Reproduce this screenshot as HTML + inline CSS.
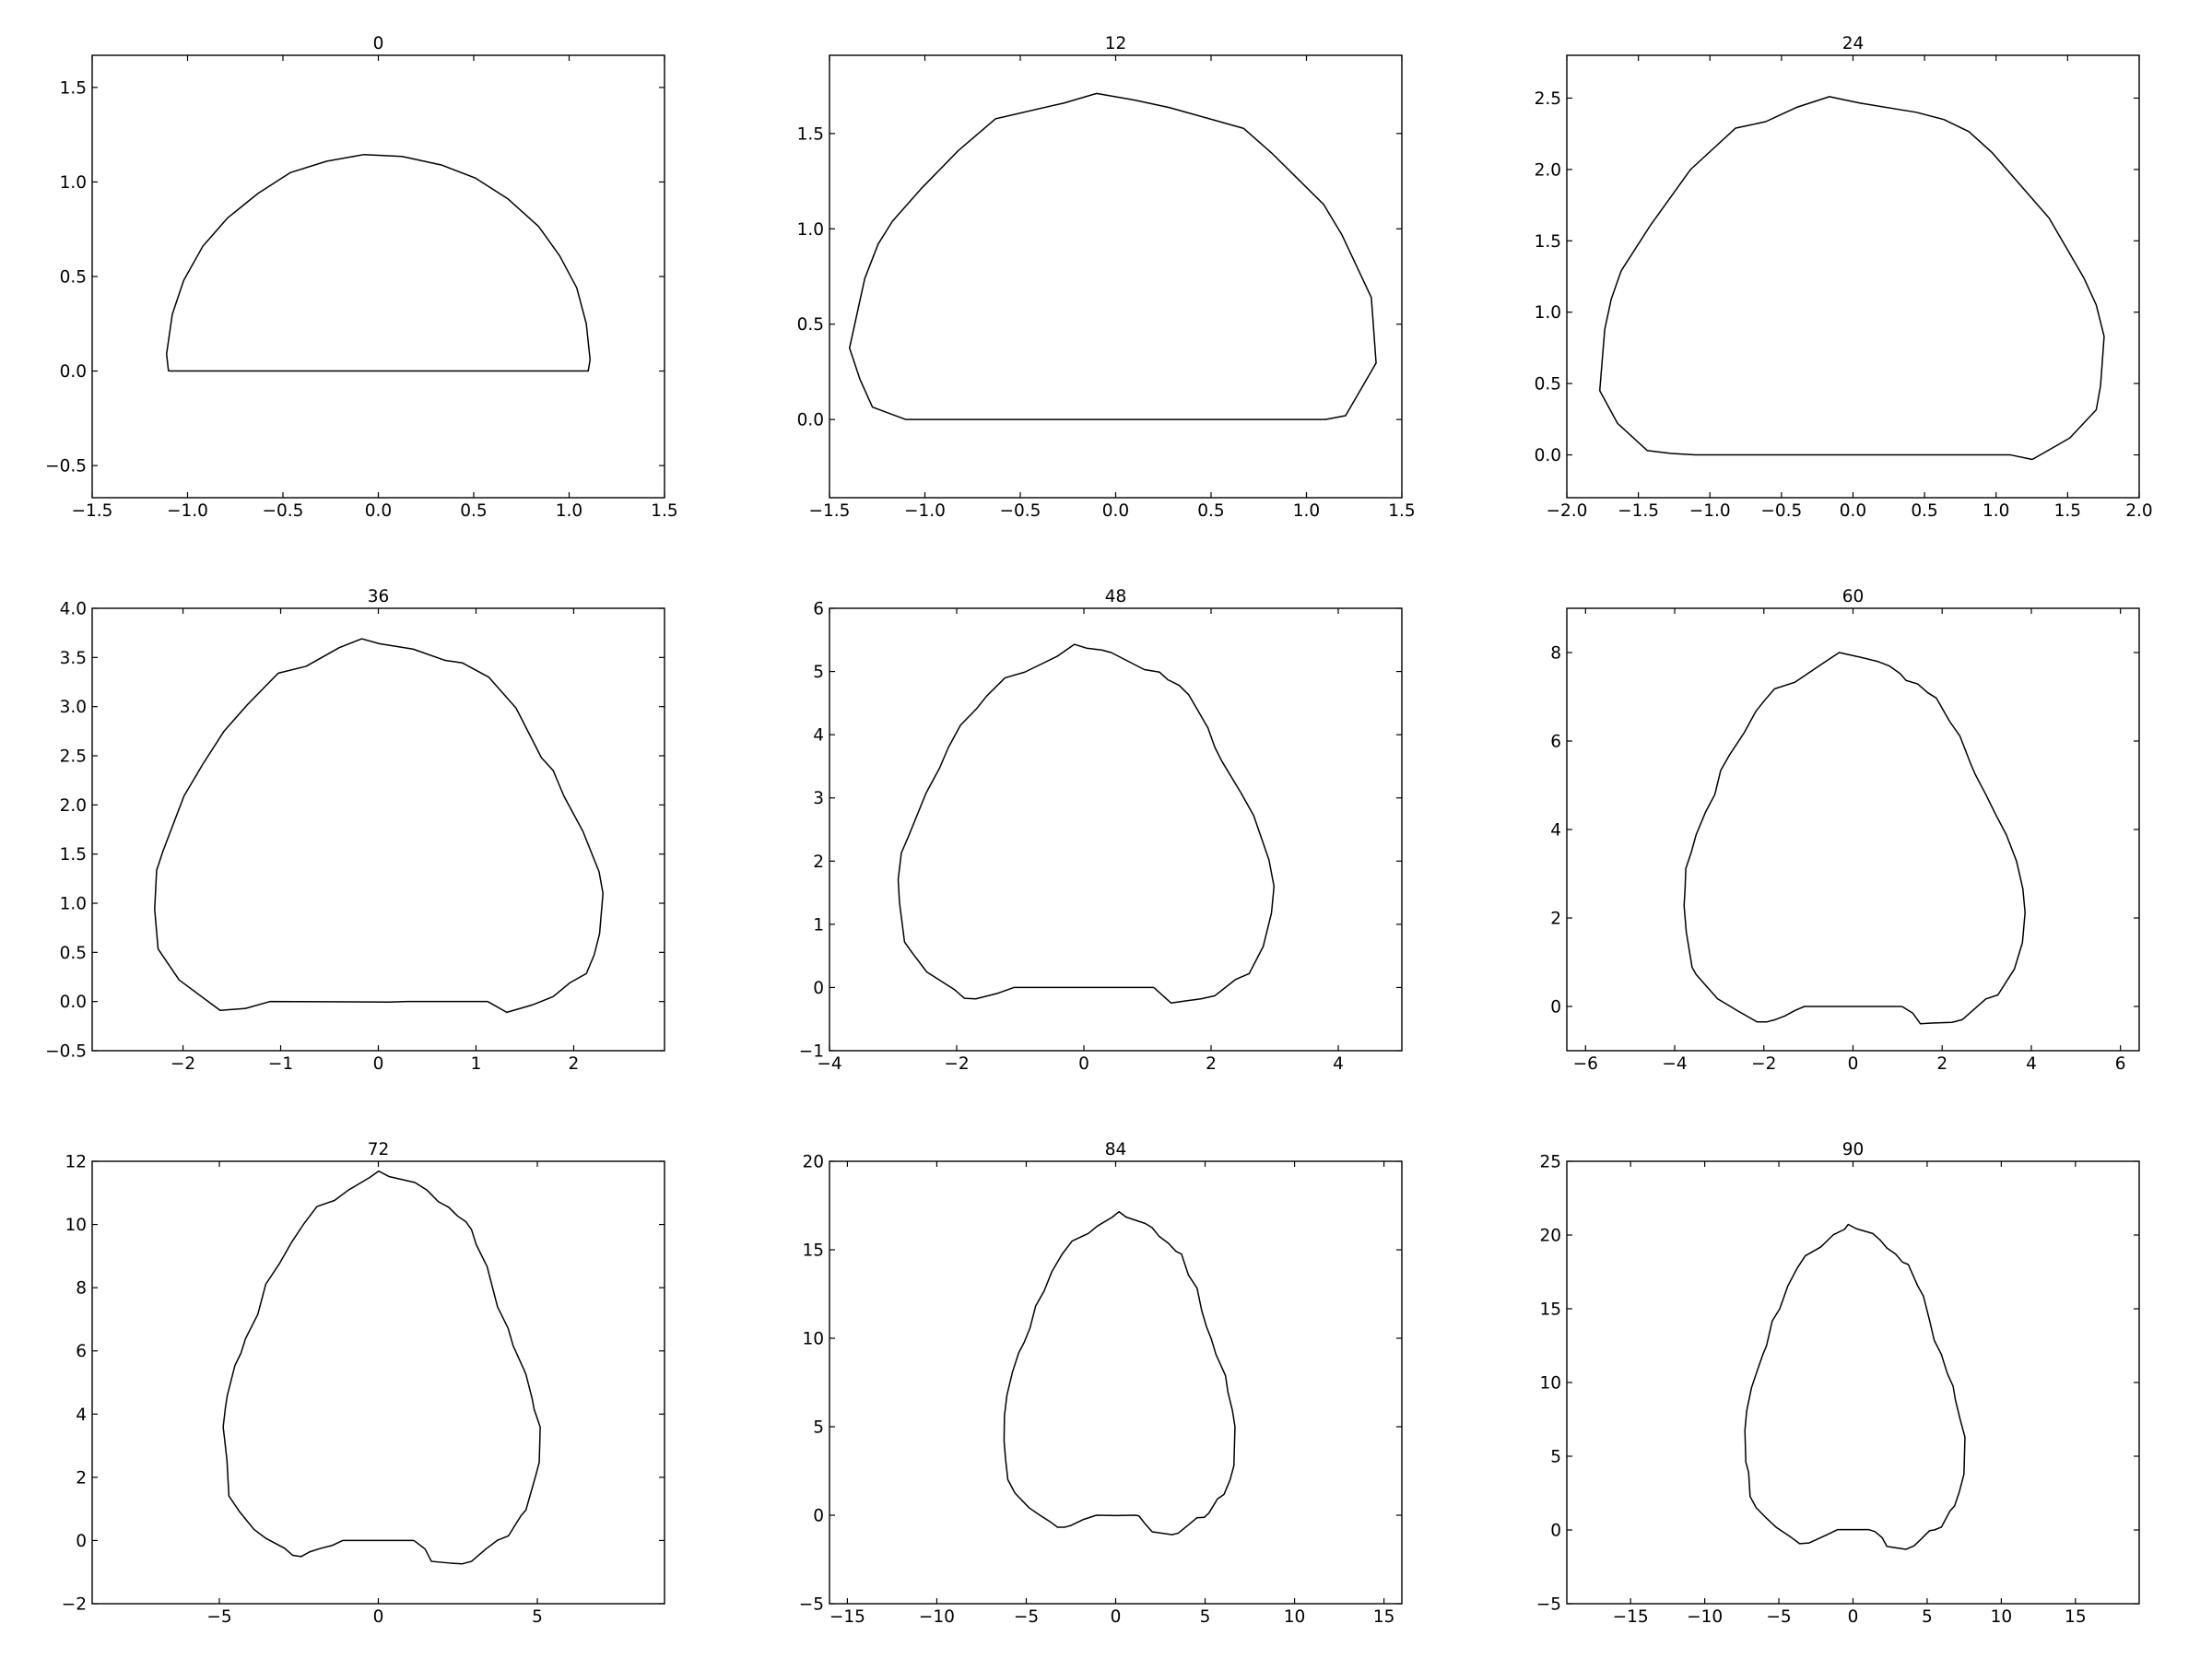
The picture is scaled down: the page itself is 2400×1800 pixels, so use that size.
<!DOCTYPE html>
<html><head><meta charset="utf-8">
<style>
html,body{margin:0;padding:0;background:#fff;}
svg{display:block;}
text{font-family:"DejaVu Sans","Liberation Sans",sans-serif;font-size:18.5px;fill:#000;}
</style></head>
<body>
<svg id="fig" width="2400" height="1800" viewBox="0 0 2400 1800" xmlns="http://www.w3.org/2000/svg"></svg>
<script>
// ---- data arrays ----
const panelTitles = ["0","12","24","36","48","60","72","84","90"];
const xRanges = [[-1.5,1.5],[-1.5,1.5],[-2,2],[-2.93,2.93],[-4,5],[-6.42,6.42],[-9,9],[-16,16],[-19.3,19.3]];
const yRanges = [[-0.67,1.67],[-0.41,1.91],[-0.30,2.80],[-0.5,4.0],[-1,6],[-1,9],[-2,12],[-5,20],[-5,25]];
const xTicks0 = [-1.5,-1.0,-0.5,0.0,0.5,1.0,1.5];
const xTicks2 = [-2.0,-1.5,-1.0,-0.5,0.0,0.5,1.0,1.5,2.0];
const xTicks3 = [-2,-1,0,1,2];
const xTicks4 = [-4,-2,0,2,4];
const xTicks5 = [-6,-4,-2,0,2,4,6];
const xTicks6 = [-5,0,5];
const xTicks7 = [-15,-10,-5,0,5,10,15];
const yTicks0 = [-0.5,0.0,0.5,1.0,1.5];
const yTicks1 = [0.0,0.5,1.0,1.5];
const yTicks2 = [0.0,0.5,1.0,1.5,2.0,2.5];
const yTicks3 = [-0.5,0.0,0.5,1.0,1.5,2.0,2.5,3.0,3.5,4.0];
const yTicks4 = [-1,0,1,2,3,4,5,6];
const yTicks5 = [0,2,4,6,8];
const yTicks6 = [-2,0,2,4,6,8,10,12];
const yTicks7 = [-5,0,5,10,15,20];
const yTicks8 = [-5,0,5,10,15,20,25];
const xTickSets = [xTicks0,xTicks0,xTicks2,xTicks3,xTicks4,xTicks5,xTicks6,xTicks7,xTicks7];
const yTickSets = [yTicks0,yTicks1,yTicks2,yTicks3,yTicks4,yTicks5,yTicks6,yTicks7,yTicks8];
const decimals = [1,1,1,1,0,0,0,0,0];
const xDecimals = [1,1,1,0,0,0,0,0,0];

const shape0 = [[-1.10,0],[-1.11,0.09],[-1.08,0.30],[-1.02,0.48],[-0.92,0.66],[-0.79,0.81],[-0.63,0.94],[-0.46,1.05],[-0.27,1.11],[-0.075,1.145],[0.125,1.135],[0.33,1.09],[0.51,1.02],[0.68,0.91],[0.84,0.765],[0.95,0.61],[1.04,0.44],[1.09,0.25],[1.11,0.06],[1.10,0]];
const shape12 = [[-1.10,0],[-1.275,0.065],[-1.34,0.21],[-1.395,0.375],[-1.315,0.74],[-1.245,0.92],[-1.17,1.04],[-1.02,1.21],[-0.825,1.41],[-0.63,1.577],[-0.27,1.66],[-0.10,1.71],[0.10,1.675],[0.285,1.635],[0.67,1.527],[0.815,1.40],[1.09,1.128],[1.185,0.97],[1.34,0.64],[1.365,0.296],[1.205,0.02],[1.10,0]];
const shape24 = [[1.253,-0.032],[1.10,0],[0.30,0],[-0.30,0],[-1.10,0],[-1.27,0.01],[-1.437,0.03],[-1.645,0.22],[-1.77,0.45],[-1.735,0.88],[-1.69,1.09],[-1.62,1.29],[-1.415,1.61],[-1.135,2.0],[-0.82,2.29],[-0.61,2.335],[-0.395,2.435],[-0.165,2.51],[0.05,2.465],[0.445,2.40],[0.635,2.35],[0.81,2.265],[0.97,2.12],[1.37,1.66],[1.615,1.237],[1.70,1.05],[1.755,0.83],[1.73,0.485],[1.70,0.316],[1.515,0.118]];
const shape36 = [[1.12,0],[0.30,0],[0.105,-0.005],[-1.11,0],[-1.36,-0.07],[-1.62,-0.09],[-2.04,0.22],[-2.255,0.535],[-2.29,0.94],[-2.27,1.335],[-2.205,1.53],[-1.99,2.09],[-1.80,2.41],[-1.58,2.75],[-1.34,3.02],[-1.025,3.34],[-0.74,3.41],[-0.40,3.60],[-0.17,3.69],[0.01,3.64],[0.355,3.585],[0.685,3.47],[0.86,3.445],[1.13,3.30],[1.41,2.985],[1.67,2.48],[1.79,2.35],[1.90,2.09],[2.095,1.73],[2.26,1.32],[2.30,1.10],[2.265,0.69],[2.21,0.475],[2.13,0.285],[1.96,0.19],[1.79,0.05],[1.575,-0.035],[1.315,-0.11]];
const shape48 = [[1.10,0],[-1.10,0],[-1.35,-0.09],[-1.70,-0.18],[-1.88,-0.17],[-2.04,-0.03],[-2.47,0.245],[-2.70,0.55],[-2.82,0.72],[-2.90,1.35],[-2.92,1.71],[-2.87,2.13],[-2.75,2.41],[-2.48,3.08],[-2.27,3.47],[-2.13,3.80],[-1.94,4.15],[-1.68,4.42],[-1.53,4.61],[-1.24,4.90],[-0.93,4.99],[-0.42,5.24],[-0.15,5.43],[0.04,5.37],[0.28,5.34],[0.43,5.30],[0.95,5.03],[1.19,4.99],[1.32,4.87],[1.50,4.78],[1.65,4.63],[1.95,4.11],[2.06,3.80],[2.17,3.58],[2.47,3.08],[2.67,2.72],[2.91,2.02],[2.99,1.60],[2.95,1.18],[2.82,0.65],[2.60,0.22],[2.39,0.13],[2.06,-0.13],[1.84,-0.18],[1.61,-0.21],[1.37,-0.245]];
const shape60 = [[1.10,0],[-1.09,0],[-1.30,-0.09],[-1.53,-0.215],[-1.75,-0.30],[-1.94,-0.35],[-2.15,-0.35],[-2.57,-0.11],[-3.04,0.175],[-3.52,0.725],[-3.61,0.885],[-3.74,1.68],[-3.79,2.28],[-3.77,2.60],[-3.75,3.12],[-3.63,3.48],[-3.52,3.88],[-3.31,4.39],[-3.10,4.79],[-2.97,5.33],[-2.78,5.67],[-2.44,6.19],[-2.18,6.67],[-1.99,6.91],[-1.76,7.18],[-1.30,7.33],[-0.67,7.76],[-0.31,8.0],[0.18,7.89],[0.55,7.80],[0.81,7.70],[1.06,7.52],[1.19,7.37],[1.45,7.29],[1.68,7.09],[1.87,6.97],[2.17,6.44],[2.40,6.11],[2.63,5.51],[2.74,5.25],[2.98,4.79],[3.20,4.34],[3.44,3.88],[3.67,3.28],[3.81,2.66],[3.86,2.12],[3.80,1.44],[3.62,0.845],[3.25,0.26],[2.98,0.17],[2.45,-0.30],[2.22,-0.36],[1.77,-0.375],[1.51,-0.39],[1.34,-0.15]];
const shape72 = [[1.12,0],[-1.12,0],[-1.46,-0.16],[-1.80,-0.245],[-2.16,-0.36],[-2.43,-0.51],[-2.69,-0.47],[-2.95,-0.245],[-3.54,0.07],[-3.91,0.35],[-4.36,0.905],[-4.70,1.41],[-4.76,2.53],[-4.84,3.25],[-4.88,3.59],[-4.81,4.20],[-4.75,4.59],[-4.51,5.54],[-4.32,5.93],[-4.18,6.38],[-3.79,7.16],[-3.54,8.11],[-3.10,8.78],[-2.72,9.45],[-2.35,10.01],[-1.93,10.57],[-1.38,10.76],[-0.94,11.09],[-0.27,11.49],[0.01,11.69],[0.33,11.52],[1.15,11.33],[1.53,11.09],[1.89,10.72],[2.22,10.54],[2.49,10.27],[2.75,10.09],[2.93,9.84],[3.08,9.36],[3.42,8.67],[3.75,7.39],[4.08,6.72],[4.24,6.16],[4.57,5.43],[4.64,5.26],[4.84,4.48],[4.90,4.15],[5.09,3.59],[5.06,2.47],[4.94,2.02],[4.64,0.96],[4.49,0.79],[4.09,0.145],[3.75,0.01],[3.38,-0.27],[2.93,-0.66],[2.63,-0.74],[2.26,-0.715],[1.67,-0.66],[1.47,-0.27]];
const shape84 = [[1.11,0],[0,-0.02],[-1.08,0],[-1.80,-0.24],[-2.51,-0.58],[-2.86,-0.68],[-3.25,-0.68],[-3.65,-0.38],[-4.18,-0.04],[-4.84,0.42],[-5.63,1.25],[-6.03,2.01],[-6.16,3.21],[-6.24,4.20],[-6.22,5.60],[-6.08,6.79],[-5.77,8.09],[-5.42,9.18],[-5.11,9.78],[-4.79,10.58],[-4.47,11.83],[-4.00,12.67],[-3.57,13.76],[-2.99,14.76],[-2.43,15.50],[-1.53,15.92],[-1.01,16.35],[-0.21,16.83],[0.19,17.15],[0.58,16.85],[1.64,16.49],[2.04,16.25],[2.43,15.76],[2.96,15.36],[3.36,14.92],[3.68,14.76],[4.07,13.57],[4.55,12.83],[4.81,11.57],[5.08,10.64],[5.34,9.98],[5.61,9.08],[6.14,7.89],[6.27,6.99],[6.53,5.90],[6.67,5.0],[6.61,2.81],[6.40,2.01],[6.06,1.18],[5.69,0.92],[5.21,0.12],[4.95,-0.12],[4.55,-0.14],[4.10,-0.52],[3.49,-1.02],[3.15,-1.10],[2.04,-0.94],[1.64,-0.48],[1.30,-0.04]];
const shape90 = [[1.08,0.02],[-1.05,0.02],[-1.69,-0.29],[-2.96,-0.88],[-3.60,-0.93],[-4.24,-0.45],[-5.19,0.19],[-5.83,0.79],[-6.53,1.51],[-6.94,2.27],[-7.04,3.90],[-7.23,4.61],[-7.29,6.76],[-7.17,8.08],[-6.85,9.63],[-6.53,10.59],[-6.08,11.90],[-5.83,12.50],[-5.45,14.17],[-4.94,15.0],[-4.39,16.56],[-3.76,17.76],[-3.22,18.59],[-2.17,19.19],[-1.31,20.03],[-0.57,20.39],[-0.32,20.72],[0.22,20.43],[1.34,20.10],[1.82,19.67],[2.29,19.12],[2.87,18.71],[3.34,18.16],[3.73,18.0],[4.36,16.56],[4.75,15.85],[5.16,14.22],[5.48,12.86],[5.96,11.90],[6.37,10.59],[6.75,9.75],[6.91,8.80],[7.23,7.48],[7.55,6.29],[7.48,3.78],[7.17,2.58],[6.85,1.63],[6.53,1.27],[5.96,0.19],[5.48,0],[5.16,-0.05],[4.52,-0.69],[4.11,-1.08],[3.57,-1.31],[2.29,-1.12],[1.97,-0.53],[1.50,-0.12]];
const shapes = [shape0,shape12,shape24,shape36,shape48,shape60,shape72,shape84,shape90];

// ---- layout ----
const NS = "http://www.w3.org/2000/svg";
const svg = document.getElementById('fig');
const colLeft = [100, 900, 1700], rowTop = [60, 660, 1260];
const AW = 621, AH = 480, TICK = 6;
function el(tag, attrs, parent){const e=document.createElementNS(NS,tag);for(const k in attrs)e.setAttribute(k,attrs[k]);parent.appendChild(e);return e;}
function fmt(v,d){let s=v.toFixed(d);if(v<0)s='\u2212'+s.slice(1);if(parseFloat(s.replace('\u2212','-'))===0)s=(0).toFixed(d);return s;}

for(let i=0;i<9;i++){
  const L=colLeft[i%3], T=rowTop[Math.floor(i/3)];
  const [x0,x1]=xRanges[i], [y0,y1]=yRanges[i];
  const sx=v=>L+(v-x0)/(x1-x0)*AW;
  const sy=v=>T+AH-(v-y0)/(y1-y0)*AH;
  const g=el('g',{},svg);
  
  
  const clipId='clip'+i;
  const cp=el('clipPath',{id:clipId},g);
  el('rect',{x:L,y:T,width:AW,height:AH},cp);
  const pts=shapes[i].concat([shapes[i][0]]).map(p=>sx(p[0]).toFixed(2)+','+sy(p[1]).toFixed(2)).join(' ');
  const pl=el('polyline',{points:pts,fill:'none',stroke:'#000','stroke-width':1.5,'stroke-linejoin':'round','clip-path':'url(#'+clipId+')'},g);
  
  
  xTickSets[i].forEach(v=>{
    const x=sx(v);
    el('line',{x1:x,y1:T+AH,x2:x,y2:T+AH-TICK,stroke:'#000','stroke-width':1.2},g);
    el('line',{x1:x,y1:T,x2:x,y2:T+TICK,stroke:'#000','stroke-width':1.2},g);
    const t=el('text',{x:x,y:T+AH+20,'text-anchor':'middle'},g);
    t.textContent=fmt(v,xDecimals[i]);
    
    
  });
  yTickSets[i].forEach(v=>{
    const y=sy(v);
    el('line',{x1:L,y1:y,x2:L+TICK,y2:y,stroke:'#000','stroke-width':1.2},g);
    el('line',{x1:L+AW,y1:y,x2:L+AW-TICK,y2:y,stroke:'#000','stroke-width':1.2},g);
    const t=el('text',{x:L-6,y:y+6.5,'text-anchor':'end'},g);
    t.textContent=fmt(v,decimals[i]);
    
    
  });
  const fr=el('rect',{x:L,y:T,width:AW,height:AH,fill:'none',stroke:'#000','stroke-width':1.4},g);
  
  
  const tt=el('text',{x:L+AW/2,y:T-7,'text-anchor':'middle','font-size':'20px'},g);
  tt.textContent=panelTitles[i];
  
  
}
</script>
</body></html>
